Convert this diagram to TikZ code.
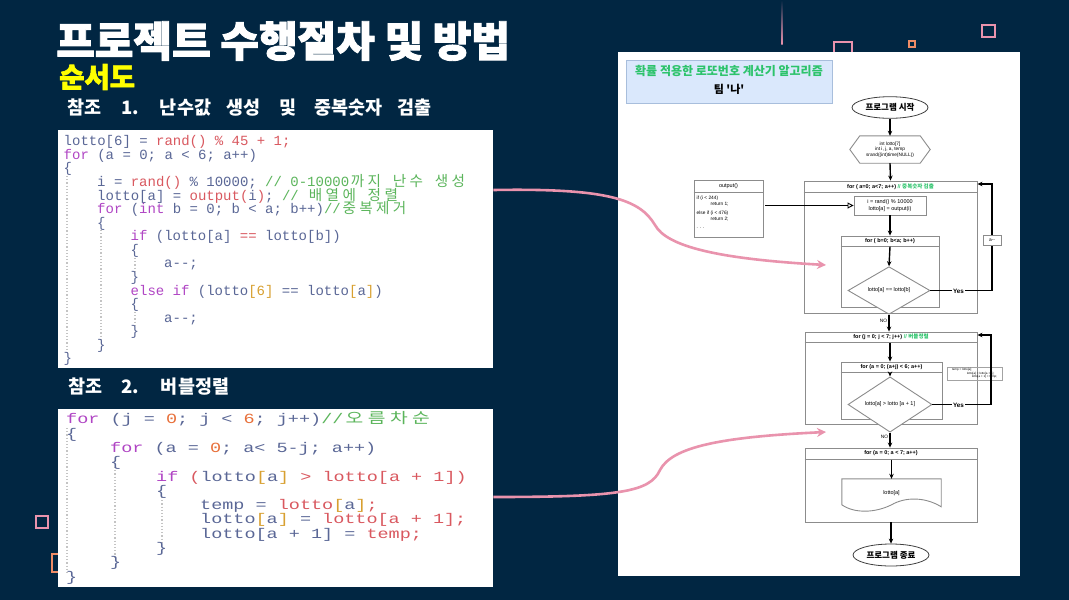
\documentclass[tikz,border=0pt]{standalone}
\usepackage{fontspec}
\usepackage{graphicx}
\usetikzlibrary{arrows.meta,calc,shapes.geometric}
\setmainfont{Liberation Sans}
\newfontfamily\kr{Noto Sans CJK KR}
\newfontfamily\krt{Noto Sans CJK KR}[BoldFeatures={FakeBold=2.2}]
\newfontfamily\codefont{Liberation Mono}
\newfontfamily\krc{Noto Sans CJK KR}
\definecolor{bg}{HTML}{012642}
\definecolor{cid}{HTML}{5A6796}
\definecolor{ckw}{HTML}{B045C4}
\definecolor{cfn}{HTML}{D9585F}
\definecolor{cnum}{HTML}{E8703A}
\definecolor{ccm}{HTML}{5BB55B}
\definecolor{cbr}{HTML}{D8A030}
\definecolor{pinkc}{HTML}{E993AD}
\definecolor{orangec}{HTML}{EE8C66}
\definecolor{hdrfill}{HTML}{DAE8FC}
\definecolor{hdrline}{HTML}{A8BEDC}
\definecolor{titlegreen}{HTML}{2CC36B}
\definecolor{fgray}{HTML}{8C8C8C}
\definecolor{guide}{HTML}{C4C4C4}
\definecolor{subyellow}{HTML}{FFFF00}
\newcommand\tkfn[1]{\textcolor{cfn}{#1}}
\newcommand\tkkw[1]{\textcolor{ckw}{#1}}
\newcommand\tknum[1]{\textcolor{cnum}{#1}}
\newcommand\tkcm[1]{\textcolor{ccm}{#1}}
\newcommand\tkbr[1]{\textcolor{cbr}{#1}}
\def\kcstop{\kcstop}
\def\kcloop#1{\ifx#1\kcstop\else\smash{\makebox[16.8pt]{\krc\fontsize{14.6}{14}\selectfont #1}}\expandafter\kcloop\fi}
\newcommand\kc[1]{\kcloop#1\kcstop}
\begin{document}
\begin{tikzpicture}[x=1pt,y=-1pt,
  codeline/.style={anchor=base west, inner sep=0pt, font=\codefont\fontsize{14}{14}\selectfont, text=cid},
  guideline/.style={draw=guide, dotted, line width=1.2pt},
  pinkarr/.style={draw=pinkc, line width=2.6pt, -{Stealth[length=9pt,width=9pt]}},
  fbox/.style={draw=fgray, line width=0.9pt, inner sep=0pt},
  fl/.style={font=\fontsize{5.5}{6.5}\selectfont, inner sep=0pt},
  flb/.style={font=\bfseries\fontsize{5.5}{6.5}\selectfont, inner sep=0pt},
  farr/.style={-{Stealth[length=5pt,width=4.5pt]}, line width=1.4pt, black},
  oarr/.style={-{Triangle[open,length=6pt,width=6pt]}, line width=0.9pt, black},
  term/.style={ellipse, draw=black!75, line width=0.8pt, inner sep=0pt, font=\kr\bfseries\fontsize{8.5}{9}\selectfont},
  heading/.style={anchor=west, inner sep=0pt, text=white, font=\kr\bfseries\fontsize{18.5}{20}\selectfont}
]
\useasboundingbox (0,0) rectangle (1069,600);
\fill[bg] (0,0) rectangle (1069,600);

% decorations
\shade[top color=bg, bottom color=pinkc] (781.3,0) rectangle (782.7,44);
\draw[pinkc, line width=1.3pt] (834,42) rectangle (852,58);
\draw[orangec, line width=1.2pt] (909,41) rectangle (915,47);
\draw[pinkc, line width=1.3pt] (982,25) rectangle (995,37);
\draw[pinkc, line width=1.3pt] (36,516) rectangle (48,528);
\draw[orangec, line width=1.3pt] (52,554) rectangle (64,572);

% titles
\node[anchor=west, inner sep=0pt, text=white, font=\krt\bfseries\fontsize{42}{44}\selectfont] (title) at (56,41) {프로젝트 수행절차 및 방법};
\node[anchor=west, inner sep=0pt, text=subyellow, font=\krt\bfseries\fontsize{27.5}{29}\selectfont] (sub) at (59,77) {순서도};
\node[heading] (ref1) at (67,108) {참조\hspace{20pt}1.\hspace{21pt}난수값\hspace{15pt}생성\hspace{19pt}및\hspace{18pt}중복숫자\hspace{15pt}검출};
\node[heading] (ref2) at (68,387) {참조\hspace{19pt}2.\hspace{22pt}버블정렬};

% code boxes
\node[fill=white, inner sep=0pt, minimum width=435pt, minimum height=238pt, anchor=north west] (C1) at (58,130) {};
\node[fill=white, inner sep=0pt, minimum width=435pt, minimum height=178pt, anchor=north west] (C2) at (58,409) {};

% guides code 1
\draw[guideline] (67,176) -- (67,355);
\draw[guideline] (101,230) -- (101,342);
\draw[guideline] (135,258) -- (135,273);
\draw[guideline] (135,312) -- (135,327);
% guides code 2
\draw[guideline] (67,428) -- (67,573);
\draw[guideline] (115,467) -- (115,558);
\draw[guideline] (162,497) -- (162,544);

% code 1
\node[codeline] (l1) at (63.5,145.8) {lotto[6] = \tkfn{rand() \% 45 + 1;}};
\node[codeline] (l2) at (63.5,159.4) {\tkkw{for} (a = 0; a < 6; a++)};
\node[codeline] (l3) at (63.5,172.9) {\{};
\node[codeline] (l4) at (97,186.5) {i = \tkfn{rand()} \% 10000; \tkcm{// 0-10000\kc{까지} \kc{난수} \kc{생성}}};
\node[codeline] (l5) at (97,200.1) {lotto[a] = \tkfn{output(}i\tkfn{)}; \tkcm{// \kc{배열에} \kc{정렬}}};
\node[codeline] (l6) at (97,213.7) {\tkkw{for} (\tkkw{int} b = 0; b < a; b++)\tkcm{//\kc{중복제거}}};
\node[codeline] (l7) at (97,227.2) {\{};
\node[codeline] (l8) at (130.5,240.8) {\tkkw{if} (lotto[a] \tkfn{==} lotto[b])};
\node[codeline] (l9) at (130.5,254.4) {\{};
\node[codeline] (l10) at (164,267.9) {a-\kern0pt-;};
\node[codeline] (l11) at (130.5,281.5) {\}};
\node[codeline] (l12) at (130.5,295.1) {\tkkw{else if} (lotto\tkbr{[6]} == lotto\tkbr{[}a\tkbr{]})};
\node[codeline] (l13) at (130.5,308.6) {\{};
\node[codeline] (l14) at (164,322.2) {a-\kern0pt-;};
\node[codeline] (l15) at (130.5,335.8) {\}};
\node[codeline] (l16) at (97,349.4) {\}};
\node[codeline] (l17) at (63.5,362.9) {\}};

% code 2
\node[codeline] (m1) at (66,423.8) {\scalebox{1.32}[1]{\tkkw{for} (j = \tknum{0}; j < \tknum{6}; j++)\tkcm{//\kc{오름차순}}}};
\node[codeline] (m2) at (66,438.1) {\scalebox{1.32}[1]{\{}};
\node[codeline] (m3) at (110,452.4) {\scalebox{1.32}[1]{\tkkw{for} (a = \tknum{0}; a< 5-j; a++)}};
\node[codeline] (m4) at (110,466.7) {\scalebox{1.32}[1]{\{}};
\node[codeline] (m5) at (156,481) {\scalebox{1.32}[1]{\tkkw{if} \tkfn{(}lotto\tkbr{[}a\tkbr{]} \tkfn{> lotto[a + 1])}}};
\node[codeline] (m6) at (156,495.3) {\scalebox{1.32}[1]{\{}};
\node[codeline] (m7) at (200,509.6) {\scalebox{1.32}[1]{temp = \tkfn{lotto}\tkbr{[}a\tkbr{]}\tkfn{;}}};
\node[codeline] (m8) at (200,523.9) {\scalebox{1.32}[1]{lotto\tkbr{[}a\tkbr{]} = \tkfn{lotto[a + 1];}}};
\node[codeline] (m9) at (200,538.2) {\scalebox{1.32}[1]{lotto[a + 1] = \tkfn{temp;}}};
\node[codeline] (m10) at (156,552.5) {\scalebox{1.32}[1]{\}}};
\node[codeline] (m11) at (110,566.8) {\scalebox{1.32}[1]{\}}};
\node[codeline] (m12) at (66,581.1) {\scalebox{1.32}[1]{\}}};

% flowchart panel
\node[fill=white, inner sep=0pt, minimum width=402pt, minimum height=524pt, anchor=north west] (P) at (618,52) {};
\node[fill=hdrfill, draw=hdrline, line width=0.8pt, inner sep=0pt, minimum width=206pt, minimum height=43pt, anchor=north west] (H) at (626,60) {};
\node[inner sep=0pt, text=titlegreen, font=\kr\bfseries\fontsize{12}{13}\selectfont] (Ht) at (729,70.5) {확률 적용한 로또번호 계산기 알고리즘};
\node[inner sep=0pt, font=\kr\bfseries\fontsize{11}{12}\selectfont] (Hs) at (729,89) {팀 \textquotesingle 나\textquotesingle};

% start / hexagon
\node[term, minimum width=76pt, minimum height=21.6pt] (S) at (890,107.5) {프로그램 시작};
\node[inner sep=0pt, minimum width=80pt, minimum height=27pt, align=center, font=\fontsize{4.8}{5.6}\selectfont] (Hx) at (890,149.5) {int lotto[7]\\int i, j, a, temp\\srand((int)time(NULL))};
\draw[fgray, line width=0.9pt] (Hx.west) -- ($(Hx.north west)+(10,0)$) -- ($(Hx.north east)+(-10,0)$) -- (Hx.east) -- ($(Hx.south east)+(-10,0)$) -- ($(Hx.south west)+(10,0)$) -- cycle;

% box 1
\node[fbox, minimum width=173pt, minimum height=132pt] (B1) at (890.5,247) {};
\draw[fgray, line width=0.9pt] ($(B1.north west)+(0,12)$) -- ($(B1.north east)+(0,12)$);
\node[flb] (B1h) at ($(B1.north)+(0,6)$) {for ( a=0; a<7; a++) \textcolor{titlegreen}{// {\kr 중복숫자 검출}}};
\node[fbox, minimum width=72pt, minimum height=19pt, align=center, font=\fontsize{5.5}{6.5}\selectfont] (R1) at (890,205.5) {i = rand() \% 10000\\lotto[a] = output(i)};
\node[fbox, minimum width=98pt, minimum height=71pt] (I1) at (890,271.5) {};
\draw[fgray, line width=0.9pt] ($(I1.north west)+(0,11)$) -- ($(I1.north east)+(0,11)$);
\node[flb] (I1h) at ($(I1.north)+(0,5.5)$) {for ( b=0; b<a; b++)};
\coordinate (I1hb) at ($(I1.north)+(0,11)$);
\node[diamond, draw=fgray, line width=0.9pt, fill=white, inner sep=0pt, minimum width=82pt, minimum height=25pt, font=\fontsize{5.5}{6.5}\selectfont] (D1) at (889,290.5) {lotto[a] == lotto[b]};

% output box
\node[fbox, minimum width=69pt, minimum height=57pt] (O) at (728.5,208.5) {};
\draw[fgray, line width=0.9pt] ($(O.north west)+(0,13)$) -- ($(O.north east)+(0,13)$);
\node[fl] (Oh) at ($(O.north)+(0,6.5)$) {output()};
\node[fl, anchor=north west, align=left, font=\fontsize{4.8}{5.8}\selectfont] (Ob) at (696.5,196) {if (i < 244)\\\hspace*{14pt}return 1;\\[3pt]else if (i < 476)\\\hspace*{14pt}return 2;\\[3pt]. . .};
\draw[oarr, shorten <=2pt] (O.east |- R1.west) -- (R1.west);

% box 2
\node[fbox, minimum width=172pt, minimum height=92pt] (B2) at (891,378) {};
\draw[fgray, line width=0.9pt] ($(B2.north west)+(0,11)$) -- ($(B2.north east)+(0,11)$);
\node[flb] (B2h) at ($(B2.north)+(0,5.5)$) {for (j = 0; j < 7; j++) \textcolor{titlegreen}{// {\kr 버블정렬}}};
\coordinate (B2hb) at ($(B2.north)+(0,11)$);
\node[fbox, minimum width=101pt, minimum height=57pt] (I2) at (891.5,390.5) {};
\draw[fgray, line width=0.9pt] ($(I2.north west)+(0,11)$) -- ($(I2.north east)+(0,11)$);
\node[flb] (I2h) at ($(I2.north)+(0,5.5)$) {for (a = 0; (a+j) < 6; a++)};
\coordinate (I2hb) at ($(I2.north)+(0,11)$);
\node[diamond, draw=fgray, line width=0.9pt, fill=white, inner sep=0pt, minimum width=84pt, minimum height=25pt, font=\fontsize{5.5}{6.5}\selectfont] (D2) at (890,404.5) {lotto[a] > lotto [a + 1]};
\node[fbox, draw=fgray!80, line width=0.6pt, minimum width=55pt, minimum height=13pt, align=left, font=\fontsize{3}{3.6}\selectfont] (SW) at (974.5,373.5) {temp = lotto[a];\\\hspace*{15pt}lotto[a] = lotto[a + 1];\\\hspace*{20pt}lotto[a + 1] = temp;};

% box 3
\node[fbox, minimum width=172pt, minimum height=74pt] (B3) at (891,485) {};
\draw[fgray, line width=0.9pt] ($(B3.north west)+(0,12)$) -- ($(B3.north east)+(0,12)$);
\node[flb] (B3h) at ($(B3.north)+(0,6)$) {for (a = 0; a < 7; a++)};
\coordinate (B3hb) at ($(B3.north)+(0,12)$);
\node[fl, minimum width=99pt, minimum height=29pt] (Dc) at (891.5,493.5) {lotto[a]};
\draw[fgray, line width=0.9pt] (Dc.north west) -- (Dc.north east) -- ($(Dc.north east)+(0,28)$) .. controls ($(Dc.north east)+(-16,18)$) and ($(Dc.north east)+(-36,18)$) .. ($(Dc.north)+(0,26)$) .. controls ($(Dc.north)+(-16,34)$) and ($(Dc.north west)+(13,35)$) .. ($(Dc.north west)+(0,26)$) -- cycle;
\node[term, minimum width=76pt, minimum height=22pt] (E) at (891,555) {프로그램 종료};

% arrows
\draw[farr] (S.south) -- (Hx.north);
\draw[farr] (Hx.south) -- (B1.north);
\draw[farr] (R1.south) -- (I1.north);
\draw[farr] (I1hb) -- (D1.north);
\draw[farr] (D1.south) -- (B2.north -| D1.south);
\node[fl, font=\fontsize{4.8}{5.5}\selectfont] (no1) at (883.5,320.5) {NO};
\coordinate (Y1c) at (992,184);
\draw[farr] (D1.east) -| (Y1c) -- (B1.east |- Y1c);
\node[flb, fill=white, inner sep=0.6pt, font=\bfseries\fontsize{6.3}{7}\selectfont] (yes1) at (958.5,291) {Yes};
\node[fbox, fill=white, draw=fgray, line width=0.6pt, minimum width=18pt, minimum height=10pt, font=\fontsize{4.8}{5.5}\selectfont] (am) at (992,240) {a-\kern0pt-};

\draw[farr] (B2hb -| D2.north) -- (I2.north -| D2.north);
\draw[farr] (I2hb -| D2.north) -- (D2.north);
\draw[farr] (D2.south) -- (B3.north -| D2.south);
\node[fl, font=\fontsize{4.8}{5.5}\selectfont] (no2) at (884.5,437) {NO};
\coordinate (Y2c) at (991,335);
\draw[farr] (D2.east) -| (Y2c) -- (B2.east |- Y2c);
\node[flb, fill=white, inner sep=0.6pt, font=\bfseries\fontsize{6.3}{7}\selectfont] (yes2) at (958.5,405.5) {Yes};

\draw[farr] (B3hb -| Dc.north) -- (Dc.north);
\draw[farr] (B3.south) -- (E.north);

% pink connectors
\coordinate (pe1) at (826,265);
\coordinate (pe2) at (826,432);
\draw[pinkarr] ($(C1.north east)+(0,60)$) .. controls (610,188) and (640,200) .. (655,225) .. controls (667,247) and (720,259) .. (pe1);
\draw[pinkarr] ($(C2.north east)+(0,88)$) .. controls (620,497) and (650,492) .. (660,470) .. controls (672,447) and (720,437) .. (pe2);
\end{tikzpicture}
\end{document}
